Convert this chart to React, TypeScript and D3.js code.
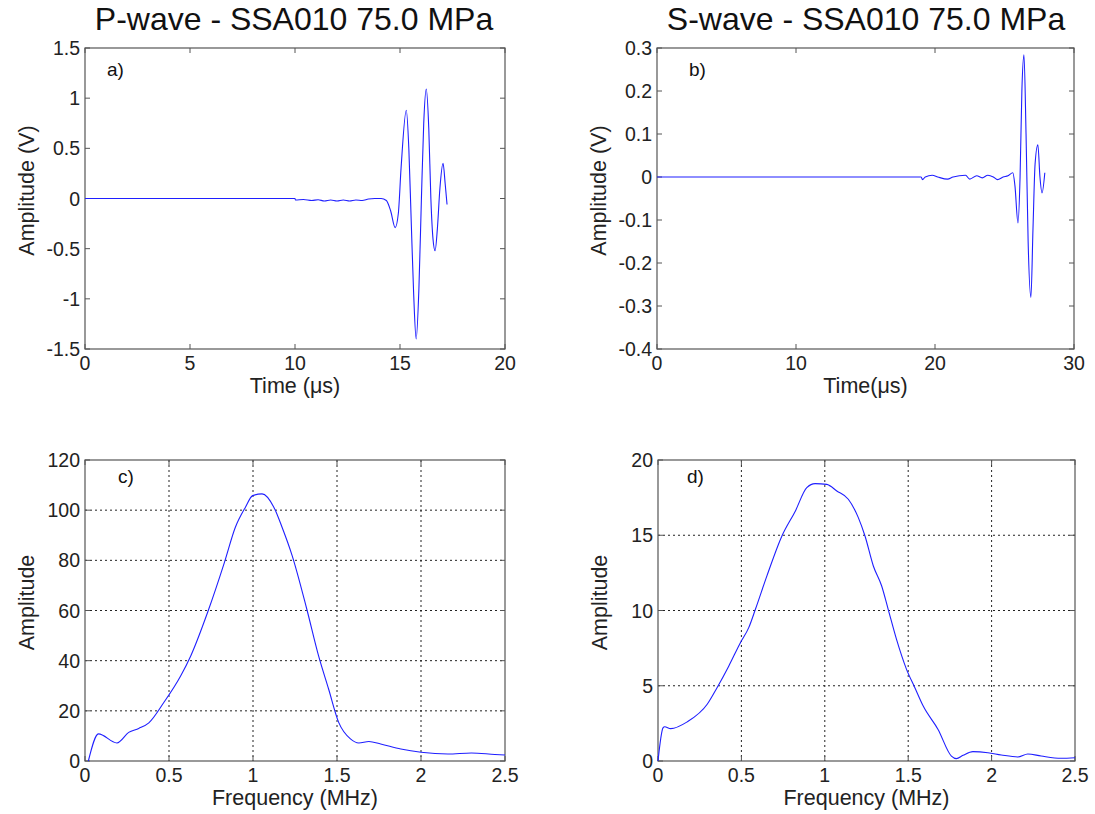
import React from "react";
import * as d3 from "d3";

// ---------- Data ----------
const pTime = [0, 10.0, 10.02, 10.4, 10.8, 11.1, 11.4, 11.7, 12.0, 12.3, 12.6, 12.9, 13.2, 13.5, 13.8, 14.1, 14.35, 14.55, 14.77, 14.92, 15.05, 15.3, 15.42, 15.53, 15.65, 15.77, 15.9, 16.02, 16.13, 16.25, 16.37, 16.47, 16.57, 16.67, 16.78, 16.9, 17.05, 17.15, 17.24];
const pAmp = [0, 0, -0.015, -0.01, -0.02, -0.012, -0.025, -0.015, -0.025, -0.015, -0.025, -0.015, -0.02, -0.005, 0, 0, -0.02, -0.12, -0.29, -0.15, 0.3, 0.88, 0.5, -0.2, -0.95, -1.4, -0.9, 0.0, 0.75, 1.09, 0.7, 0.0, -0.4, -0.52, -0.3, 0.1, 0.35, 0.15, -0.06];

const sTime = [0, 19.0, 19.1, 19.3, 19.8, 20.2, 20.9, 21.3, 22.2, 22.5, 23.0, 23.4, 23.8, 24.2, 24.5, 24.9, 25.25, 25.6, 25.75, 25.97, 26.12, 26.25, 26.4, 26.55, 26.7, 26.9, 27.05, 27.2, 27.4, 27.55, 27.7, 27.9];
const sAmp = [0, 0, -0.006, 0, 0.004, 0, -0.005, 0, 0.004, -0.005, 0.003, -0.002, 0.004, 0, -0.006, 0, 0.003, 0.01, -0.02, -0.107, 0.0, 0.2, 0.284, 0.1, -0.15, -0.28, -0.12, 0.03, 0.075, 0.0, -0.037, 0.01];

const pFreq = [0.02, 0.08, 0.19, 0.26, 0.32, 0.38, 0.47, 0.57, 0.63, 0.73, 0.83, 0.895, 0.955, 0.998, 1.054, 1.124, 1.173, 1.233, 1.32, 1.39, 1.45, 1.51, 1.58, 1.63, 1.69, 1.76, 1.88, 2.0, 2.16, 2.3, 2.44, 2.5];
const pSpec = [0, 10.8, 7.2, 11.4, 13, 15.2, 23.4, 34, 42, 59.3, 79.2, 93.2, 101.2, 105.8, 106.5, 101.2, 93.2, 81.9, 60.6, 42, 28.7, 15.4, 8.8, 7.2, 7.8, 6.8, 4.8, 3.5, 2.8, 3.2, 2.6, 2.4];

const sFreq = [0, 0.03, 0.04, 0.076, 0.175, 0.295, 0.354, 0.424, 0.494, 0.544, 0.584, 0.653, 0.743, 0.823, 0.892, 0.942, 1.012, 1.072, 1.141, 1.201, 1.241, 1.291, 1.341, 1.38, 1.43, 1.49, 1.54, 1.59, 1.679, 1.759, 1.789, 1.829, 1.888, 1.978, 2.058, 2.157, 2.217, 2.297, 2.416, 2.5];
const sSpec = [0, 2.2, 2.28, 2.15, 2.6, 3.77, 4.87, 6.3, 7.86, 8.86, 10.08, 12.3, 14.95, 16.6, 18.16, 18.43, 18.38, 17.94, 17.39, 16.17, 14.95, 12.96, 11.63, 10.08, 8.08, 6.09, 4.87, 3.65, 2.1, 0.33, 0.155, 0.38, 0.62, 0.55, 0.4, 0.27, 0.47, 0.33, 0.18, 0.22];

const aXTicks = [0, 5, 10, 15, 20];
const aXLabels = ["0", "5", "10", "15", "20"];
const aYTicks = [-1.5, -1, -0.5, 0, 0.5, 1, 1.5];
const aYLabels = ["-1.5", "-1", "-0.5", "0", "0.5", "1", "1.5"];

const bXTicks = [0, 10, 20, 30];
const bXLabels = ["0", "10", "20", "30"];
const bYTicks = [-0.4, -0.3, -0.2, -0.1, 0, 0.1, 0.2, 0.3];
const bYLabels = ["-0.4", "-0.3", "-0.2", "-0.1", "0", "0.1", "0.2", "0.3"];

const fXTicks = [0, 0.5, 1, 1.5, 2, 2.5];
const fXLabels = ["0", "0.5", "1", "1.5", "2", "2.5"];
const cYTicks = [0, 20, 40, 60, 80, 100, 120];
const cYLabels = ["0", "20", "40", "60", "80", "100", "120"];
const dYTicks = [0, 5, 10, 15, 20];
const dYLabels = ["0", "5", "10", "15", "20"];

const titles = ["P-wave - SSA010 75.0 MPa", "S-wave - SSA010 75.0 MPa"];

const FONT = "'Liberation Sans', Arial, sans-serif";
const LINE = "#1f1fff";
const FRAME = "#555";
const TICK_FS = 19.5;
const LABEL_FS = 21.5;

type PanelProps = {
  left: number; top: number; width: number; height: number;
  xDomain: [number, number]; yDomain: [number, number];
  xTicks: number[]; xLabels: string[]; yTicks: number[]; yLabels: string[];
  xs: number[]; ys: number[]; grid: boolean;
  xLabel: string; yLabel: string; tag: string; tagX: number; tagY: number;
};

function Panel(p: PanelProps) {
  const x = d3.scaleLinear().domain(p.xDomain).range([p.left, p.left + p.width]);
  const y = d3.scaleLinear().domain(p.yDomain).range([p.top + p.height, p.top]);
  const pts: [number, number][] = p.xs.map((v, i) => [v, p.ys[i]]);
  const line = d3.line<[number, number]>()
    .x(d => x(d[0])).y(d => y(d[1]))
    .curve(d3.curveMonotoneX);
  const bottom = p.top + p.height;
  const right = p.left + p.width;
  const tl = 5;
  return (
    <g fontFamily={FONT}>
      {p.grid && p.xTicks.slice(1, -1).map((t, i) => (
        <line key={"gx" + i} x1={x(t)} x2={x(t)} y1={p.top} y2={bottom} stroke="#222" strokeWidth={1} strokeDasharray="2,3" />
      ))}
      {p.grid && p.yTicks.slice(1, -1).map((t, i) => (
        <line key={"gy" + i} x1={p.left} x2={right} y1={y(t)} y2={y(t)} stroke="#222" strokeWidth={1} strokeDasharray="2,3" />
      ))}
      <rect x={p.left} y={p.top} width={p.width} height={p.height} fill="none" stroke={FRAME} strokeWidth={1.2} />
      {p.xTicks.map((t, i) => (
        <g key={"xt" + i}>
          <line x1={x(t)} x2={x(t)} y1={bottom} y2={bottom - tl} stroke={FRAME} />
          <line x1={x(t)} x2={x(t)} y1={p.top} y2={p.top + tl} stroke={FRAME} />
          <text x={x(t)} y={bottom + 21} textAnchor="middle" fontSize={TICK_FS} fill="#222">{p.xLabels[i]}</text>
        </g>
      ))}
      {p.yTicks.map((t, i) => (
        <g key={"yt" + i}>
          <line x1={p.left} x2={p.left + tl} y1={y(t)} y2={y(t)} stroke={FRAME} />
          <line x1={right} x2={right - tl} y1={y(t)} y2={y(t)} stroke={FRAME} />
          <text x={p.left - 5} y={y(t) + 7} textAnchor="end" fontSize={TICK_FS} fill="#222">{p.yLabels[i]}</text>
        </g>
      ))}
      <path d={line(pts) || ""} fill="none" stroke={LINE} strokeWidth={1.1} />
      <text x={p.tagX} y={p.tagY} fontSize={19} fill="#111">{p.tag}</text>
      <text x={(p.left + right) / 2} y={bottom + 44} textAnchor="middle" fontSize={LABEL_FS} fill="#222">{p.xLabel}</text>
      <text transform={`translate(${p.left - 51},${p.top + p.height / 2 - 8}) rotate(-90)`} textAnchor="middle" fontSize={LABEL_FS} fill="#222">{p.yLabel}</text>
    </g>
  );
}

export default function App() {
  return (
    <svg width={1095} height={814} style={{ position: "absolute", left: 0, top: 0, background: "#fff" }}>
      <rect width={1095} height={814} fill="#fff" />
      <text x={294} y={30} textAnchor="middle" fontSize={32} fontFamily={FONT} fill="#111">{titles[0]}</text>
      <text x={866} y={30} textAnchor="middle" fontSize={32} fontFamily={FONT} fill="#111">{titles[1]}</text>
      <Panel left={85} top={48} width={420} height={301} xDomain={[0, 20]} yDomain={[-1.5, 1.5]}
        xTicks={aXTicks} xLabels={aXLabels} yTicks={aYTicks} yLabels={aYLabels}
        xs={pTime} ys={pAmp} grid={false} xLabel="Time (μs)" yLabel="Amplitude (V)" tag="a)" tagX={107} tagY={76} />
      <Panel left={657} top={48} width={417} height={301} xDomain={[0, 30]} yDomain={[-0.4, 0.3]}
        xTicks={bXTicks} xLabels={bXLabels} yTicks={bYTicks} yLabels={bYLabels}
        xs={sTime} ys={sAmp} grid={false} xLabel="Time(μs)" yLabel="Amplitude (V)" tag="b)" tagX={689} tagY={76} />
      <Panel left={85} top={460} width={420} height={301} xDomain={[0, 2.5]} yDomain={[0, 120]}
        xTicks={fXTicks} xLabels={fXLabels} yTicks={cYTicks} yLabels={cYLabels}
        xs={pFreq} ys={pSpec} grid={true} xLabel="Frequency (MHz)" yLabel="Amplitude" tag="c)" tagX={118} tagY={483} />
      <Panel left={658} top={460} width={417} height={301} xDomain={[0, 2.5]} yDomain={[0, 20]}
        xTicks={fXTicks} xLabels={fXLabels} yTicks={dYTicks} yLabels={dYLabels}
        xs={sFreq} ys={sSpec} grid={true} xLabel="Frequency (MHz)" yLabel="Amplitude" tag="d)" tagX={687} tagY={483} />
    </svg>
  );
}
